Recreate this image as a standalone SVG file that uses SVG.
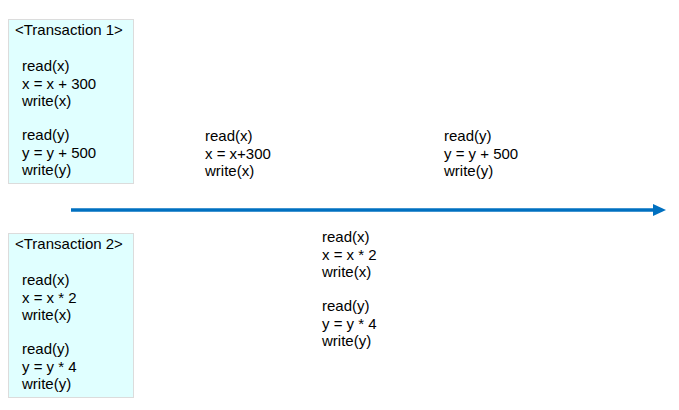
<svg xmlns="http://www.w3.org/2000/svg" width="679" height="410" viewBox="0 0 679 410">
<defs>
<style>
text{font-family:"Liberation Sans","Noto Sans CJK KR",sans-serif;font-size:15px;fill:#000}
.box{fill:#e0ffff;stroke:#dcdcdc;stroke-width:1}
</style>
<marker id="ah" viewBox="0 0 13 12" refX="2" refY="6" markerWidth="13" markerHeight="12" orient="auto" markerUnits="userSpaceOnUse">
<path d="M0,0 L13,6 L0,12 Z" fill="#0070c0"/>
</marker>
</defs>
<rect width="679" height="410" fill="#fff"/>
<g id="t1">
<rect class="box" x="8.5" y="19.5" width="125" height="164"/>
<text x="15" y="35">&lt;Transaction 1&gt;</text>
<text x="22" y="71">read(x)</text>
<text x="22" y="88.5">x = x + 300</text>
<text x="22" y="106">write(x)</text>
<text x="22" y="140">read(y)</text>
<text x="22" y="157.5">y = y + 500</text>
<text x="22" y="175">write(y)</text>
</g>
<g id="t2">
<rect class="box" x="8.5" y="233.5" width="125" height="164"/>
<text x="15" y="249">&lt;Transaction 2&gt;</text>
<text x="22" y="285">read(x)</text>
<text x="22" y="302.5">x = x * 2</text>
<text x="22" y="320">write(x)</text>
<text x="22" y="354">read(y)</text>
<text x="22" y="371.5">y = y * 4</text>
<text x="22" y="389">write(y)</text>
</g>
<g id="s1">
<text x="205" y="141">read(x)</text>
<text x="205" y="158.5">x = x+300</text>
<text x="205" y="176">write(x)</text>
</g>
<g id="s2">
<text x="444" y="141">read(y)</text>
<text x="444" y="158.5">y = y + 500</text>
<text x="444" y="176">write(y)</text>
</g>
<g id="s3">
<text x="322" y="242">read(x)</text>
<text x="322" y="259.5">x = x * 2</text>
<text x="322" y="277">write(x)</text>
<text x="322" y="311">read(y)</text>
<text x="322" y="328.5">y = y * 4</text>
<text x="322" y="346">write(y)</text>
</g>
<g id="connectors">
<path d="M71,210 H655" stroke="#0070c0" stroke-width="3.5" fill="none" marker-end="url(#ah)"/>
</g>
</svg>
